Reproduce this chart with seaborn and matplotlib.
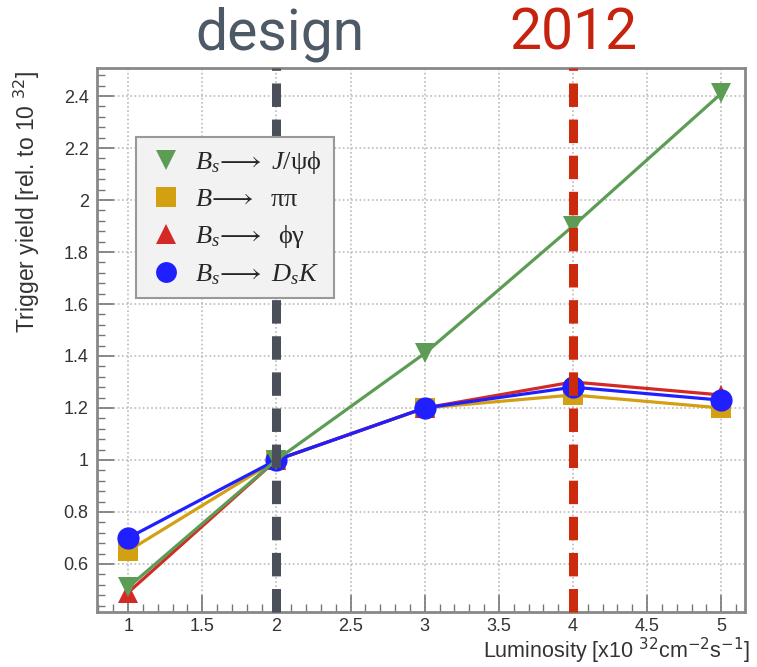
import matplotlib
matplotlib.use("Agg")
import matplotlib.pyplot as plt
from matplotlib.ticker import MultipleLocator, FixedLocator
from matplotlib.lines import Line2D
import seaborn as sns
import pandas as pd

# Luminosity points [x10^32 cm^-2 s^-1]
luminosity = [1, 2, 3, 4, 5]

# Trigger yields relative to 10^32
yield_jpsiphi = [0.51, 1.00, 1.41, 1.90, 2.41]
yield_pipi = [0.65, 1.00, 1.20, 1.25, 1.20]
yield_phigamma = [0.49, 1.00, 1.20, 1.30, 1.25]
yield_dsk = [0.70, 1.00, 1.20, 1.28, 1.23]

labels = [r"$B_s\!\longrightarrow\ J/$ψϕ",
          r"$B\!\longrightarrow$  ππ",
          r"$B_s\!\longrightarrow$  ϕγ",
          r"$B_s\!\longrightarrow\ D_sK$"]

x_ticks = [1, 1.5, 2, 2.5, 3, 3.5, 4, 4.5, 5]
x_tick_labels = ["1", "1.5", "2", "2.5", "3", "3.5", "4", "4.5", "5"]
y_ticks = [0.6, 0.8, 1.0, 1.2, 1.4, 1.6, 1.8, 2.0, 2.2, 2.4]
y_tick_labels = ["0.6", "0.8", "1", "1.2", "1.4", "1.6", "1.8", "2", "2.2", "2.4"]

design_lumi = 2
run2012_lumi = 4

sns.set_style("white")
plt.rcParams["font.family"] = ["Liberation Sans", "DejaVu Sans"]
plt.rcParams["mathtext.fontset"] = "custom"
plt.rcParams["mathtext.rm"] = "Liberation Serif"
plt.rcParams["mathtext.it"] = "Liberation Serif:italic"
plt.rcParams["mathtext.bf"] = "Liberation Serif:bold"

fig = plt.figure(figsize=(7.57, 6.67), dpi=100)
ax = fig.add_axes([97 / 757, 1 - 612 / 667, (745 - 97) / 757, (612 - 68) / 667])

green = "#5c9c55"
gold = "#d3a012"
red = "#d42a25"
blue = "#1f1fff"

series = [
    ("pipi", yield_pipi, gold, "s", 14),
    ("phigamma", yield_phigamma, red, "^", 15),
    ("dsk", yield_dsk, blue, "o", 16),
    ("jpsiphi", yield_jpsiphi, green, "v", 15),
]
for name, vals, col, mk, ms in series:
    df = pd.DataFrame({"lumi": luminosity, "yield": vals})
    sns.lineplot(data=df, x="lumi", y="yield", ax=ax, color=col, marker=mk,
                 markersize=ms, markeredgewidth=0, linewidth=2.3, zorder=3)

# operating points
ax.axvline(design_lumi, color="#4a4f59", linewidth=6.5, dashes=(2.6, 1.4), zorder=5,
           clip_on=False)
ax.axvline(run2012_lumi, color="#cc2a0c", linewidth=6.5, dashes=(2.6, 1.4), zorder=5,
           clip_on=False)

ax.set_xlim(0.79, 5.16)
ax.set_ylim(0.415, 2.508)
ax.xaxis.set_major_locator(FixedLocator(x_ticks))
ax.set_xticklabels(x_tick_labels)
ax.xaxis.set_minor_locator(MultipleLocator(0.1))
ax.yaxis.set_major_locator(FixedLocator(y_ticks))
ax.set_yticklabels(y_tick_labels)
ax.yaxis.set_minor_locator(MultipleLocator(0.04))

ax.tick_params(axis="both", which="major", direction="in", length=12, width=1.2,
               color="#777777", labelsize=13, labelcolor="#333333", pad=6)
ax.tick_params(axis="x", which="major", pad=4)
ax.tick_params(axis="both", which="minor", direction="in", length=6, width=1.0,
               color="#777777")
ax.tick_params(left=True, bottom=True, which="both")

ax.grid(True, which="major", color="#bbbbbb", linestyle=(0, (1, 1.5)), linewidth=1.2)
for sp in ax.spines.values():
    sp.set_color("#888888")
    sp.set_linewidth(2)
    sp.set_visible(True)

ax.set_xlabel("")
ax.set_ylabel("")
fig.text(750 / 757, 1 - 651 / 667, r"Luminosity [x10 $^{32}$cm$^{-2}$s$^{-1}$]",
         ha="right", va="center", fontsize=15.5, color="#333333",
         math_fontfamily="dejavusans")
fig.text(27 / 757, 1 - 202 / 667, r"Trigger yield [rel. to 10 $^{32}$]", rotation=90,
         ha="center", va="center", fontsize=16.5, color="#333333",
         math_fontfamily="dejavusans")

# headline annotations above the two reference luminosities
fig.text(280 / 757, 1 - 34 / 667, "design", ha="center", va="center", fontsize=41,
         color="#4e5967", family=["Roboto", "DejaVu Sans"])
fig.text(573 / 757, 1 - 34 / 667, "2012", ha="center", va="center", fontsize=41,
         color="#c62210", family=["Roboto", "DejaVu Sans"])

handles = [
    Line2D([], [], color=green, marker="v", markersize=15, linestyle="none", markeredgewidth=0),
    Line2D([], [], color=gold, marker="s", markersize=14, linestyle="none", markeredgewidth=0),
    Line2D([], [], color=red, marker="^", markersize=15, linestyle="none", markeredgewidth=0),
    Line2D([], [], color=blue, marker="o", markersize=15, linestyle="none", markeredgewidth=0),
]
leg = ax.legend(handles, labels, loc="upper left",
                bbox_to_anchor=((136 - 97) / 648, 1 - (137 - 68) / 544),
                borderaxespad=0, frameon=True, fancybox=False,
                prop={"family": ["Liberation Serif", "DejaVu Serif"], "size": 19},
                labelspacing=0.45, handletextpad=0.4, borderpad=0.45, handlelength=1.4)
leg.get_frame().set_facecolor("#f2f2f2")
leg.get_frame().set_edgecolor("#999999")
leg.get_frame().set_linewidth(1.5)
leg.get_frame().set_alpha(1)
leg.set_zorder(6)

fig.savefig("out.png", dpi=100)
